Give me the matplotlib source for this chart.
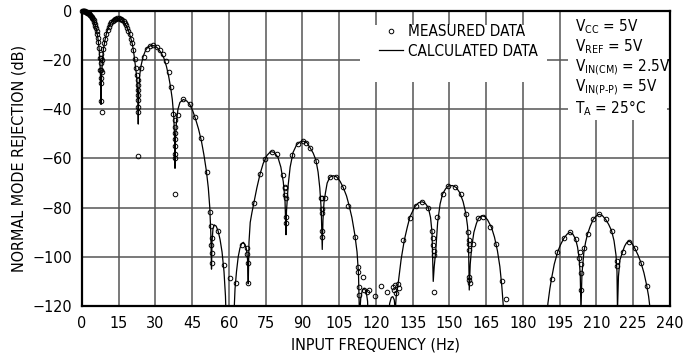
import numpy as np
import matplotlib.pyplot as plt
from matplotlib.patches import Rectangle

plt.rcParams['font.family'] = ['DejaVu Sans']
plt.rcParams['font.stretch'] = 'condensed'
plt.rcParams['mathtext.fontset'] = 'custom'
plt.rcParams['mathtext.rm'] = 'DejaVu Sans:stretch=condensed'

# ---------------- curva calculada ----------------
# valores abaixo de -120 ficam fora do eixo (notches)
freq_calc = [
    0, 1, 2, 3, 4, 4.5, 5, 5.5, 6, 6.5, 7, 7.3, 7.5, 7.7, 7.8,
    7.9, 8.1, 8.4, 8.8, 9.4, 10, 10.7, 11.5, 12.5, 13.5, 14.8, 16, 17, 18, 19, 19.8, 20.6, 21.3, 21.9, 22.4, 22.8, 23.0,
    23.2, 23.6, 24.2, 25, 26, 27, 28.4, 29.8, 31, 32.2, 33.4, 34.5, 35.4, 36.2, 36.9, 37.5, 37.9, 38.0,
    38.2, 38.6, 39.2, 40, 41.4, 42.8, 44, 45.2, 46.4, 47.6, 48.8, 49.8, 50.8, 51.6, 52.2, 52.6, 52.9,
    53.1, 53.5, 54.0, 54.8, 55.6, 56.4, 57.2, 58, 58.6, 59,
    61.8, 62.5, 63.1, 63.8, 64.5, 65.2, 65.9, 66.6, 67.2, 67.6, 67.9,
    68.2, 68.7, 69.4, 70.2, 71.4, 72.7, 74, 75.5, 77, 78.5, 80, 81.2, 82.2, 82.9, 83.3,
    83.5, 84.2, 85.0, 86.2, 87.6, 89, 90.3, 91.8, 93.1, 94.4, 95.5, 96.4, 97.1, 97.7, 98.1,
    98.4, 98.8, 99.4, 100.1, 101.2, 102.6, 104, 105.4, 106.7, 108, 109, 110.2, 111.4, 112.3, 112.9, 113.3,
    113.8, 114.4, 115.2, 116.0, 116.6, 117.0,
    125.0, 125.6, 126.3, 126.9, 127.5, 127.9,
    128.3, 129.1, 130.3, 131.6, 132.8, 133.9, 135.9, 137.4, 138.9, 140.2, 141.4, 142.3, 142.9, 143.4,
    143.8, 144.4, 145.2, 146.2, 147.2, 148.4, 149.5, 151.2, 152.8, 154.3, 155.6, 156.7, 157.4, 157.8, 158.1,
    158.5, 159.1, 160, 161, 161.8, 163.1, 164.4, 165.6, 167.2, 168.4, 169.6, 170.6, 171.4, 172.0, 172.4,
    189.6, 190.2, 191, 191.7, 192.8, 194.2, 195.4, 196.7, 198, 199.2, 200.4, 201.5, 202.3, 202.9, 203.4, 203.7,
    204.1, 204.9, 205.6, 206.4, 207.5, 208.7, 210, 211.2, 212.5, 213.8, 215, 216.2, 217.2, 218, 218.4, 218.6,
    219, 219.6, 220.7, 221.5, 222.3, 223.4, 224.5, 225.7, 227, 228.2, 229.4, 230.5, 231.3, 231.9, 232.4,
]
db_calc = [
    0, -0.1, -0.5, -1.2, -2.4, -3.3, -4.4, -6, -8, -10.8, -15, -19.5, -24, -31, -38,
    -31, -25, -20, -15.5, -12, -9.3, -7, -5.3, -4, -3.3, -3, -3.3, -4.2, -5.8, -8, -10.5, -13.5, -18, -23, -27, -34, -46,
    -33, -26, -22, -18.5, -16, -14.6, -14, -14.2, -15.2, -16.8, -19, -22.5, -26.5, -31, -36, -43, -53, -64,
    -52, -45, -40, -37.2, -36, -36.6, -38, -40.5, -44, -48, -53, -58.5, -65, -72, -80, -90, -105,
    -94, -88.5, -87, -87.5, -89.5, -93, -98, -106, -116, -130,
    -130, -113, -106, -100, -96.5, -94.6, -94.1, -95, -97, -101, -111,
    -94, -86, -82, -78, -72, -66.4, -62, -58.8, -57.2, -57.5, -59.5, -63.5, -69.5, -77, -91,
    -81.6, -70.8, -63.5, -57.5, -54.5, -53.3, -52.9, -53.5, -55.6, -57.8, -60.6, -65.5, -72, -81, -97,
    -85, -78, -74, -70, -67.6, -67, -67.5, -69.3, -71.9, -75.2, -78.9, -84, -91, -98, -107, -125,
    -117, -113.8, -112.8, -114, -118, -130,
    -130, -119, -116.5, -116.2, -117.5, -122,
    -116, -110.8, -101, -93.2, -88, -83.7, -79.6, -78, -77.6, -78.3, -80, -84, -90, -110,
    -104, -97.9, -86, -78.5, -74.5, -72.4, -71.2, -71, -71.8, -74, -77.6, -82.3, -87.5, -94, -113.5,
    -103, -96, -90, -86.5, -84.4, -83.3, -83.6, -85, -88.1, -92, -97.5, -104, -112, -120, -130,
    -130, -119, -113, -108.8, -103, -97.9, -95, -92.5, -90.8, -90, -90.8, -92.8, -96, -100.2, -107, -122,
    -107, -98, -94, -90.7, -87.5, -84.8, -83.3, -82.7, -83.3, -84.8, -86.8, -89.4, -93.5, -99.3, -106, -122,
    -108, -101.3, -97.9, -95.7, -94.3, -93.6, -94.5, -96.6, -99.3, -102.4, -106.5, -111.5, -116, -121, -130,
]

# ---------------- pontos medidos ----------------
freq_med = [
    # lobulo 1
    0, 0.25, 0.5, 0.75, 1, 1.25, 1.5, 1.75, 2, 2.25, 2.5, 2.75, 3, 3.25, 3.5, 3.75,
    4, 4.25, 4.5, 4.75, 5, 5.25, 5.5, 5.75, 6, 6.25, 6.5, 6.75, 7, 7.25, 7.5,
    7.6, 7.65, 7.7, 7.75, 7.7, 7.8, 7.8, 8.0,
    # lobulo 2
    8.1, 8.4, 8.8, 9.2, 9.6, 10, 10.5, 11, 11.5, 12, 12.5, 13, 13.5, 14, 14.5, 15,
    15.5, 16, 16.5, 17, 17.5, 18, 18.5, 19, 19.5, 20, 20.5, 21, 21.5, 22, 22.3,
    22.7, 22.8, 22.9, 22.9, 23.0, 23.0, 23.1, 23.0,
    # lobulo 3
    24.2, 25.3, 26.6, 27.9, 29.2, 30.5, 31.8, 33, 34.2, 35.4, 36.4, 37.3,
    37.9, 38.0, 38.1, 37.9, 38.0, 38.1, 38.2, 38.0,
    # lobulo 4
    39.1, 41.4, 44.1, 46.1, 48.6, 50.9, 52.2, 52.6, 52.9, 52.7, 52.9, 52.9,
    # 55 - 68 Hz
    55.6, 58.1, 60.4, 62.8, 65.2, 67.2, 67.5, 67.7, 67.9,
    # lobulo 7
    70.2, 72.7, 74.7, 77.4, 79.5, 82.2, 82.9, 83.1, 83.1, 83.2, 83.2, 83.2,
    # lobulo 8
    85.6, 88.3, 90.3, 91.4, 93.1, 95.5, 97.4, 97.8, 97.9, 98.0, 98.1, 98.2,
    # lobulo 9
    99.2, 101.2, 103.7, 106.4, 108.7, 111.4, 112.5, 112.8, 113.2, 113.2,
    # 113 - 130 Hz
    114.8, 115.2, 116.2, 117.3, 119.6, 122, 124.4, 126.8, 127.3, 127.9, 128.4, 129, 129.5,
    # lobulo 10
    131.2, 133.9, 136.3, 139, 141.4, 143.1, 143.3, 143.4, 143.6, 143.8, 143.8,
    # lobulo 11
    145, 147.5, 149.5, 152.2, 154.6, 156.7, 157.7, 157.9, 158.1, 158.0, 158.0, 158.2, 158.4,
    # lobulo 12
    159.5, 161.8, 163.8, 166.5, 169, 171.3, 173.1,
    # lobulo 13
    191.7, 194.1, 196.7, 199.2, 201.5, 202.9, 203.5, 203.6, 203.7, 203.8,
    # lobulo 14
    205, 206.4, 208.7, 211.2, 213.8, 216.2, 218.5, 218.6,
    # lobulo 15
    220.7, 223.4, 225.7, 228.2, 230.5,
]
db_med = [
    0, 0, -0.05, -0.1, -0.1, -0.2, -0.3, -0.4, -0.5, -0.7, -0.8, -1.0, -1.2, -1.5, -1.8, -2.1,
    -2.4, -2.8, -3.3, -3.8, -4.4, -5.2, -6.0, -7.0, -8.0, -9.3, -10.8, -12.7, -15, -19, -24,
    -17.6, -19.2, -21.3, -23.9, -27.3, -29.3, -36.7, -41,
    -25, -20, -15.5, -13, -11.3, -9.3, -7.6, -6.5, -5.3, -4.6, -4, -3.6, -3.3, -3.1, -3, -3,
    -3.1, -3.3, -3.7, -4.2, -5, -5.8, -6.8, -8, -9.5, -11.2, -13, -16, -19.5, -23, -26,
    -28, -30, -32.1, -34.2, -36.2, -38.9, -41, -58.8,
    -23, -18.8, -15.6, -14.2, -14, -14.7, -15.9, -17.5, -20.5, -25, -31, -42,
    -44.5, -47, -49.5, -52, -55, -58, -60, -74.6,
    -42.5, -35.9, -38, -43, -51.8, -65.4, -81.9, -87.3, -92.5, -95.2, -98.6, -102.7,
    -89.5, -103.5, -108.8, -110.5, -95.2, -96.6, -98.8, -102.7, -110.8,
    -78.2, -66.4, -60.3, -57.2, -58.3, -66.7, -71.5, -72, -75, -76, -84, -86.4,
    -58.6, -54.2, -53, -53.7, -55.6, -60.9, -76, -76.2, -80.6, -82, -89.5, -91.8,
    -76, -67.4, -67.4, -71.8, -79.3, -91.8, -104, -106, -112.2, -115.5,
    -108.1, -113.5, -114.2, -113.5, -115.9, -111.8, -114.2, -112.1, -113.5, -111.5, -114.8, -111.2, -112.5,
    -93.2, -84.3, -79.2, -77.6, -80, -89.5, -92.5, -95, -97.5, -99.3, -114.5,
    -83.7, -74.4, -71.2, -71.5, -74.6, -82.7, -89.8, -93.2, -94.9, -97.2, -108.1, -109.4, -110.8,
    -94.9, -84.1, -83.6, -87.8, -94.9, -109.8, -117.2,
    -108.9, -97.9, -92.5, -90.1, -92.8, -100.4, -98, -103, -106.7, -113.6,
    -96.6, -90.7, -84.8, -82.7, -84.8, -89.4, -101.5, -103.7,
    -98.2, -93.9, -96.6, -102.4, -111.8,
]

x_ticks = list(range(0, 241, 15))
y_ticks = list(range(-120, 1, 20))

condicoes = [
    r'V$_{\mathrm{CC}}$ = 5V',
    r'V$_{\mathrm{REF}}$ = 5V',
    r'V$_{\mathrm{IN(CM)}}$ = 2.5V',
    r'V$_{\mathrm{IN(P\text{-}P)}}$ = 5V',
    r'T$_{\mathrm{A}}$ = 25°C',
]


fig = plt.figure(figsize=(7, 3.54), dpi=100)
ax = fig.add_axes([0.117, 0.1356, 0.840, 0.8334])

ax.plot(freq_calc, db_calc, color='black', linewidth=0.9, label='CALCULATED DATA', zorder=3)
ax.plot(freq_med, db_med, linestyle='none', marker='o', markersize=3.3, markerfacecolor='none',
        markeredgecolor='black', markeredgewidth=0.7, label='MEASURED DATA', zorder=4, clip_on=False)

ax.set_xlim(0, 240)
ax.set_ylim(-120, 0)
ax.set_xticks(x_ticks)
ax.set_yticks(y_ticks)
ax.tick_params(length=0, labelsize=11.5, pad=7)
ax.grid(True, color='#555555', linewidth=1.1)
ax.set_axisbelow(True)
for s in ax.spines.values():
    s.set_linewidth(1.6)

ax.set_xlabel('INPUT FREQUENCY (Hz)', fontsize=11.5, labelpad=5)
ax.set_ylabel('NORMAL MODE REJECTION (dB)', fontsize=11.5, labelpad=4)

# fundos brancos por baixo da legenda e das condicoes
ax.add_patch(Rectangle((113.5, -28.9), 76.5, 23.2, facecolor='white', edgecolor='none', zorder=1))
ax.add_patch(Rectangle((198.4, -44.3), 40.3, 43.8, facecolor='white', edgecolor='none', zorder=1))

h, l = ax.get_legend_handles_labels()
leg = ax.legend(h[::-1], l[::-1], loc='upper left', bbox_to_anchor=(0.505, 0.955), frameon=False,
                fontsize=11, handlelength=1.6, handletextpad=0.3, labelspacing=0.3,
                borderpad=0, borderaxespad=0)

ys = [0.932, 0.864, 0.796, 0.730, 0.654]
for txt, y in zip(condicoes, ys):
    ax.text(0.838, y, txt, transform=ax.transAxes, fontsize=11, va='baseline', ha='left', zorder=5)

fig.savefig('out.png', dpi=100)
